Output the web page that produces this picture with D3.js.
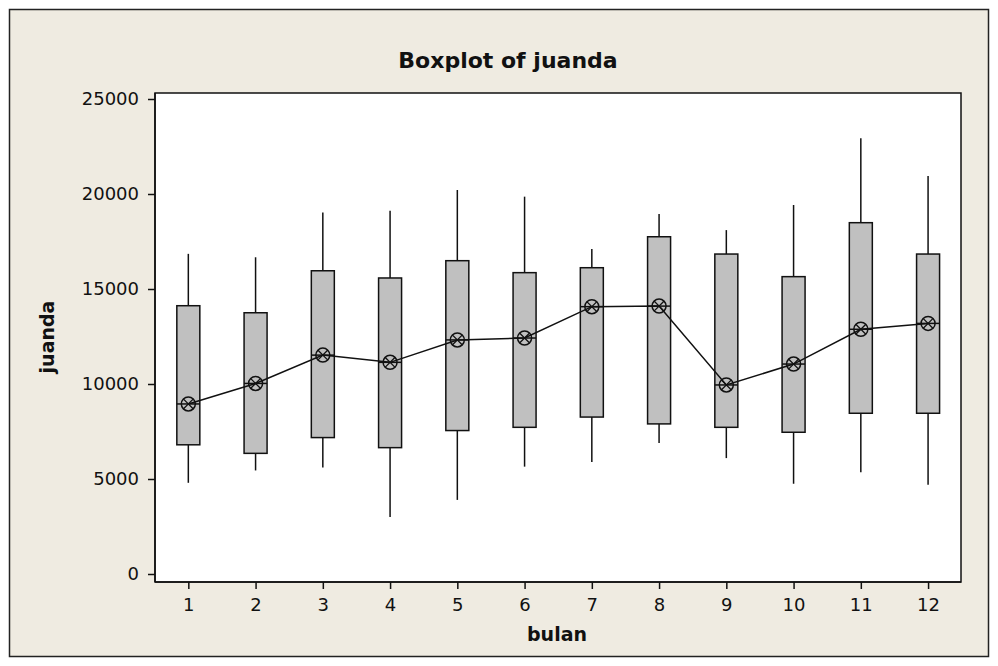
<!DOCTYPE html>
<html>
<head>
<meta charset="utf-8">
<script src="https://cdn.jsdelivr.net/npm/d3@7"></script>
<style>
  body { margin: 0; background: #fff; }
  svg { display: block; font-family: 'DejaVu Sans', sans-serif; }
</style>
</head>
<body>
<svg id="chart" width="998" height="666"></svg>
<script>
// boxplot values per month (bulan)
const months   = [1, 2, 3, 4, 5, 6, 7, 8, 9, 10, 11, 12]
const whiskLo  = [4800, 5450, 5600, 3000, 3900, 5650, 5900, 6900, 6100, 4750, 5350, 4700]
const q1       = [6800, 6350, 7180, 6650, 7550, 7720, 8260, 7900, 7720, 7460, 8460, 8460]
const median   = [8950, 10030, 11520, 11140, 12320, 12420, 14070, 14100, 9950, 11050, 12880, 13190]
const q3       = [14120, 13750, 15960, 15580, 16490, 15860, 16120, 17750, 16840, 15650, 18490, 16840]
const whiskHi  = [16850, 16670, 19030, 19120, 20210, 19860, 17100, 18950, 18100, 19420, 22930, 20950]
const yTicks   = [0, 5000, 10000, 15000, 20000, 25000]

const data = months.map((m, i) => ({
    m, lo: whiskLo[i], q1: q1[i], med: median[i], q3: q3[i], hi: whiskHi[i]
}))

const svg = d3.select('#chart')
const plot = { left: 155, top: 93, right: 961, bottom: 582 }

// outer frame
svg.append('rect')
    .attr('x', 9.5).attr('y', 9.5)
    .attr('width', 979).attr('height', 647)
    .attr('fill', '#efebe1')
    .attr('stroke', '#222')
    .attr('stroke-width', 1.5)

svg.append('rect')
    .attr('x', plot.left).attr('y', plot.top)
    .attr('width', plot.right - plot.left).attr('height', plot.bottom - plot.top)
    .attr('fill', '#fff')
    .attr('stroke', '#111')
    .attr('stroke-width', 1.5)

const x = d3.scaleLinear().domain([0.5, 12.5]).range([plot.left - 0.3, plot.right + 0.7])
const y = d3.scaleLinear().domain([0, 25000]).range([574, 99])

const yAxis = svg.append('g')
    .attr('transform', `translate(${plot.left},0)`)
    .call(d3.axisLeft(y).tickValues(yTicks).tickSize(7).tickPadding(9).tickFormat(d3.format('d')))
yAxis.select('.domain').attr('stroke', '#111').attr('stroke-width', 1.5)
    .attr('d', `M0,${plot.top}V${plot.bottom}`)

const xAxis = svg.append('g')
    .attr('transform', `translate(0,${plot.bottom})`)
    .call(d3.axisBottom(x).tickValues(months).tickSize(7).tickPadding(9).tickFormat(d3.format('d')))
xAxis.select('.domain').attr('stroke', '#111').attr('stroke-width', 1.5)
    .attr('d', `M${plot.left},0H${plot.right}`)

svg.selectAll('.tick line').attr('stroke', '#111').attr('stroke-width', 1.5)
svg.selectAll('.tick text').attr('fill', '#111')
yAxis.attr('font-size', 18).attr('font-family', 'DejaVu Sans')
xAxis.attr('font-size', 18).attr('font-family', 'DejaVu Sans')

const bw = 23
svg.append('g').selectAll('.box').data(data).enter().append('g')
    .attr('class', 'box')
    .each(function (d) {
        const el = d3.select(this)
        const cx = x(d.m)
        el.append('line')
            .attr('x1', cx).attr('x2', cx)
            .attr('y1', y(d.hi)).attr('y2', y(d.q3))
            .attr('stroke', '#111').attr('stroke-width', 1.5)
        el.append('line')
            .attr('x1', cx).attr('x2', cx)
            .attr('y1', y(d.q1)).attr('y2', y(d.lo))
            .attr('stroke', '#111').attr('stroke-width', 1.5)
        el.append('rect')
            .attr('x', cx - bw / 2).attr('width', bw)
            .attr('y', y(d.q3)).attr('height', y(d.q1) - y(d.q3))
            .attr('fill', '#c0c0c0')
            .attr('stroke', '#111').attr('stroke-width', 1.5)
        el.append('line')
            .attr('x1', cx - bw / 2).attr('x2', cx + bw / 2)
            .attr('y1', y(d.med)).attr('y2', y(d.med))
            .attr('stroke', '#111').attr('stroke-width', 1.5)
    })

// connect line through the centres
svg.append('path')
    .datum(data)
    .attr('fill', 'none')
    .attr('stroke', '#111')
    .attr('stroke-width', 1.5)
    .attr('d', d3.line().x(d => x(d.m)).y(d => y(d.med)))

const r = 7, k = r * 0.72
svg.append('g').selectAll('.sym').data(data).enter().append('g')
    .attr('class', 'sym')
    .attr('transform', d => `translate(${x(d.m)},${y(d.med)})`)
    .each(function () {
        const el = d3.select(this)
        el.append('circle').attr('r', r)
            .attr('fill', 'none').attr('stroke', '#111').attr('stroke-width', 1.5)
        el.append('path')
            .attr('d', `M${-k},${-k}L${k},${k}M${-k},${k}L${k},${-k}`)
            .attr('stroke', '#111').attr('stroke-width', 1.3)
    })

svg.append('text')
    .attr('x', 508).attr('y', 68)
    .attr('text-anchor', 'middle')
    .attr('font-size', 22).attr('font-weight', 'bold')
    .attr('fill', '#111')
    .text('Boxplot of juanda')

svg.append('text')
    .attr('x', 557).attr('y', 641)
    .attr('text-anchor', 'middle')
    .attr('font-size', 19).attr('font-weight', 'bold')
    .attr('fill', '#111')
    .text('bulan')

svg.append('text')
    .attr('transform', 'translate(54,337) rotate(-90)')
    .attr('text-anchor', 'middle')
    .attr('font-size', 19).attr('font-weight', 'bold')
    .attr('fill', '#111')
    .text('juanda')
</script>
</body>
</html>
